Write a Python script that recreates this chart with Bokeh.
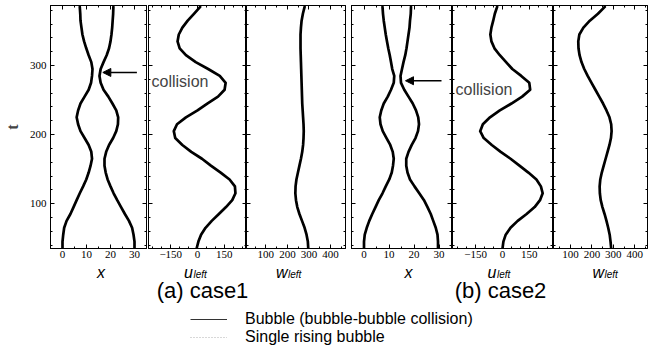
from bokeh.plotting import figure
from bokeh.layouts import column, row
from bokeh.models import (Range1d, LinearAxis, SingleIntervalTicker, Label, Arrow,
                          NormalHead, Legend, LegendItem, CustomLabelingPolicy)
from bokeh.core.properties import value
from bokeh.embed import file_html
from bokeh.resources import INLINE

# ---------------- data ----------------
t = [35, 45, 55, 65, 75, 85, 95, 105, 115, 125, 135, 145, 155, 165, 175, 185, 195, 205,
     215, 225, 235, 245, 255, 265, 275, 285, 295, 305, 315, 325, 335, 345, 355, 365, 375, 385]

case1_x_left = [0.0, 0.0, 0.3, 0.7, 1.7, 3.3, 4.6, 5.9, 7.2, 8.6, 9.9, 10.9, 11.7, 12.3, 12.0, 10.9,
                9.2, 7.5, 6.5, 5.9, 6.5, 7.5, 9.2, 10.9, 11.9, 12.3, 12.5, 12.0, 10.9, 9.9, 9.0, 8.3,
                7.9, 7.5, 7.4, 7.2]
case1_x_right = [30.0, 30.0, 29.6, 29.0, 27.7, 26.0, 24.4, 22.8, 21.3, 20.0, 18.8, 18.0, 17.5, 17.5,
                 18.2, 19.4, 21.1, 22.4, 23.1, 23.2, 22.4, 20.8, 19.1, 17.1, 15.9, 15.4, 15.9, 17.1,
                 18.4, 19.4, 20.0, 20.4, 20.7, 20.9, 21.1, 21.2]
case1_u_left = [-5, 5, 20, 45, 80, 120, 160, 195, 213, 210, 180, 130, 75, 25, -35, -85, -125, -133,
                -115, -65, 0, 55, 115, 152, 158, 125, 60, -10, -65, -100, -112, -105, -85, -55, -20, 15]
case1_w_left = [297, 295, 289, 280, 268, 256, 246, 240, 237, 238, 242, 249, 256, 263, 269, 273, 275,
                276, 275, 273, 271, 269, 268, 267, 266, 265, 264, 263, 262, 261, 261, 261, 263, 266,
                272, 280]

case2_x_left = [0.0, 0.0, 0.3, 1.1, 2.1, 3.3, 4.6, 5.9, 7.4, 8.7, 10.1, 11.1, 11.6, 11.9, 11.5, 10.5,
                9.0, 7.5, 6.6, 6.3, 6.9, 7.9, 9.5, 10.8, 11.9, 12.1, 11.3, 10.8, 10.3, 9.7, 9.2, 8.7,
                8.3, 7.9, 7.6, 7.4]
case2_x_right = [29.6, 29.6, 29.4, 28.7, 27.7, 26.7, 25.4, 24.0, 22.1, 20.2, 18.4, 17.4, 16.9, 16.9,
                 17.8, 19.1, 20.6, 21.6, 22.0, 21.7, 20.8, 19.5, 17.8, 16.1, 14.8, 14.6, 15.2, 15.8,
                 16.5, 17.0, 17.4, 17.8, 18.2, 18.4, 18.7, 18.8]
case2_u_left = [0, 5, 18, 45, 85, 135, 180, 210, 225, 215, 190, 145, 95, 45, -10, -60, -105, -125,
                -110, -70, -15, 50, 110, 155, 150, 105, 55, 20, -15, -45, -62, -68, -62, -52, -43, -30]
case2_w_left = [290, 287, 283, 276, 268, 259, 249, 241, 237, 236, 239, 246, 255, 264, 273, 282, 289,
                292, 290, 282, 268, 252, 234, 216, 198, 180, 164, 151, 142, 137, 136, 141, 160, 190,
                228, 260]

captions = ["(a) case1", "(b) case2"]
series_labels = ["Bubble (bubble-bubble collision)", "Single rising bubble"]
axis_titles = ["x", "u", "w", "x", "u", "w"]
axis_subscripts = ["", "left", "left", "", "left", "left"]
annotation_text = "collision"
collision_t = [290, 278]

# ---------------- layout / style ----------------
T_RANGE = (35, 387)
PAGE_H = 349
TOP_H = 263
FRAME_TOP, FRAME_BOT = 5, 248
SERIF = "Liberation Serif"
SANS = "Liberation Sans"
LINE_W = 2.7

HIDE_ALL = CustomLabelingPolicy(code="""
for (const i of indices) { indices.unset(i) }
return indices
""")


def style_axis(ax, labels):
    ax.major_tick_in = 4
    ax.major_tick_out = 0
    ax.minor_tick_in = 2
    ax.minor_tick_out = 0
    ax.axis_line_color = "black"
    ax.major_tick_line_color = "black"
    ax.minor_tick_line_color = "black"
    if labels:
        ax.major_label_text_font = SERIF
        ax.major_label_text_font_size = "11px"
        ax.major_label_text_color = "black"
        ax.major_label_standoff = 2
    else:
        ax.major_label_text_font_size = "0px"
        ax.major_label_standoff = 0
        ax.major_label_policy = HIDE_ALL


def make_panel(width, bl, br, xr, xint, xminor, left_labels=False):
    p = figure(width=width, height=TOP_H, x_range=Range1d(*xr), y_range=Range1d(*T_RANGE),
               output_backend="svg", toolbar_location=None,
               x_axis_location=None, y_axis_location=None,
               min_border_left=bl, min_border_right=br, min_border_top=FRAME_TOP,
               min_border_bottom=TOP_H - FRAME_BOT)
    p.outline_line_color = "black"
    p.outline_line_width = 1
    p.grid.visible = False
    for side in ("below", "above"):
        ax = LinearAxis(ticker=SingleIntervalTicker(interval=xint, num_minor_ticks=xminor))
        style_axis(ax, side == "below")
        p.add_layout(ax, side)
    for side in ("left", "right"):
        ax = LinearAxis(ticker=SingleIntervalTicker(interval=100, num_minor_ticks=5))
        show = left_labels and side == "left"
        style_axis(ax, show)
        if show:
            ax.major_label_standoff = 4
            ax.axis_label = "t"
            ax.axis_label_text_font = SERIF
            ax.axis_label_text_font_style = "bold"
            ax.axis_label_text_font_size = "16px"
            ax.axis_label_standoff = 6
        p.add_layout(ax, side)
    return p


def draw(p, xs):
    p.line(xs, t, line_color="black", line_width=LINE_W, line_join="round", line_cap="round")


def collision_arrow(p, t_at, x_tail, x_head):
    p.add_layout(Arrow(x_start=x_tail, y_start=t_at, x_end=x_head, y_end=t_at,
                       line_width=1.5, line_color="black",
                       end=NormalHead(size=8, fill_color="black", line_color="black")))


def collision_label(p, x, t_at):
    p.add_layout(Label(x=x, y=t_at, text=annotation_text, text_font=SANS,
                       text_font_size="16px", text_baseline="middle", text_align="left"))


# ---- case 1 ----
f1 = make_panel(148, 46, 2, (-5, 35), 10, 2, left_labels=True)
draw(f1, case1_x_left)
draw(f1, case1_x_right)
collision_arrow(f1, collision_t[0], 31, 16.8)

f2 = make_panel(98, 0, 0, (-275, 275), 150, 3)
draw(f2, case1_u_left)
collision_label(f2, -258, collision_t[0] - 13)

f3 = make_panel(105, 0, 6, (10, 470), 100, 2)
draw(f3, case1_w_left)

# ---- case 2 ----
f4 = make_panel(101, 0, 1, (-5, 35), 10, 2)
draw(f4, case2_x_left)
draw(f4, case2_x_right)
collision_arrow(f4, collision_t[1], 31, 16.6)

f5 = make_panel(101, 0, 1, (-280, 280), 150, 3)
draw(f5, case2_u_left)
collision_label(f5, -263, collision_t[1] - 12)

f6 = make_panel(95, 0, 1, (20, 460), 100, 2)
draw(f6, case2_w_left)

# ---- axis titles, captions and legend (page-pixel coordinates, y downward) ----
CAP_H = PAGE_H - TOP_H
cap = figure(width=648, height=CAP_H, x_range=Range1d(0, 648), y_range=Range1d(CAP_H, 0),
             output_backend="svg", toolbar_location=None, x_axis_location=None,
             y_axis_location=None, min_border_left=0, min_border_right=0, min_border_top=0,
             min_border_bottom=0)
cap.outline_line_color = None
cap.grid.visible = False

title_x = [104.5, 192.5, 287.0, 412.0, 496.0, 603.5]   # joint of letter and subscript
title_base = 272 - TOP_H
sub_base = 274 - TOP_H
cap.text(x=title_x, y=[title_base] * len(title_x), text=axis_titles,
         text_font=value(SANS), text_font_style="italic", text_font_size=value("16px"),
         text_align="right", text_baseline="alphabetic", text_color="black")
sub_idx = [i for i, s in enumerate(axis_subscripts) if s]
cap.text(x=[title_x[i] + 0.5 for i in sub_idx], y=[sub_base] * len(sub_idx),
         text=[axis_subscripts[i] for i in sub_idx],
         text_font=value(SANS), text_font_style="italic", text_font_size=value("10px"),
         text_align="left", text_baseline="alphabetic", text_color="black")

cap.text(x=[202, 500], y=[290 - TOP_H] * 2, text=captions,
         text_font=value(SANS), text_font_size=value("22px"), text_align="center",
         text_baseline="middle", text_color="black")

nan = float("nan")
r1 = cap.line(x=[nan, nan], y=[nan, nan], line_color="#333333", line_width=1)
r2 = cap.line(x=[nan, nan], y=[nan, nan], line_color="#b0b0b0", line_width=1, line_dash="1 2")
legend_rows = [(series_labels[0], r1, 21), (series_labels[1], r2, 3)]
for label, rend, y_loc in legend_rows:
    leg = Legend(items=[LegendItem(label=label, renderers=[rend])],
                 location=(190, y_loc), orientation="vertical", border_line_color=None,
                 background_fill_alpha=0, padding=0, margin=0, spacing=0, glyph_width=37,
                 glyph_height=12, label_height=12, label_standoff=18, label_text_font=SANS,
                 label_text_font_size="16px", label_text_color="black")
    cap.add_layout(leg)

layout = column(row(f1, f2, f3, f4, f5, f6), cap)
open("out.html", "w").write(file_html(layout, INLINE))
